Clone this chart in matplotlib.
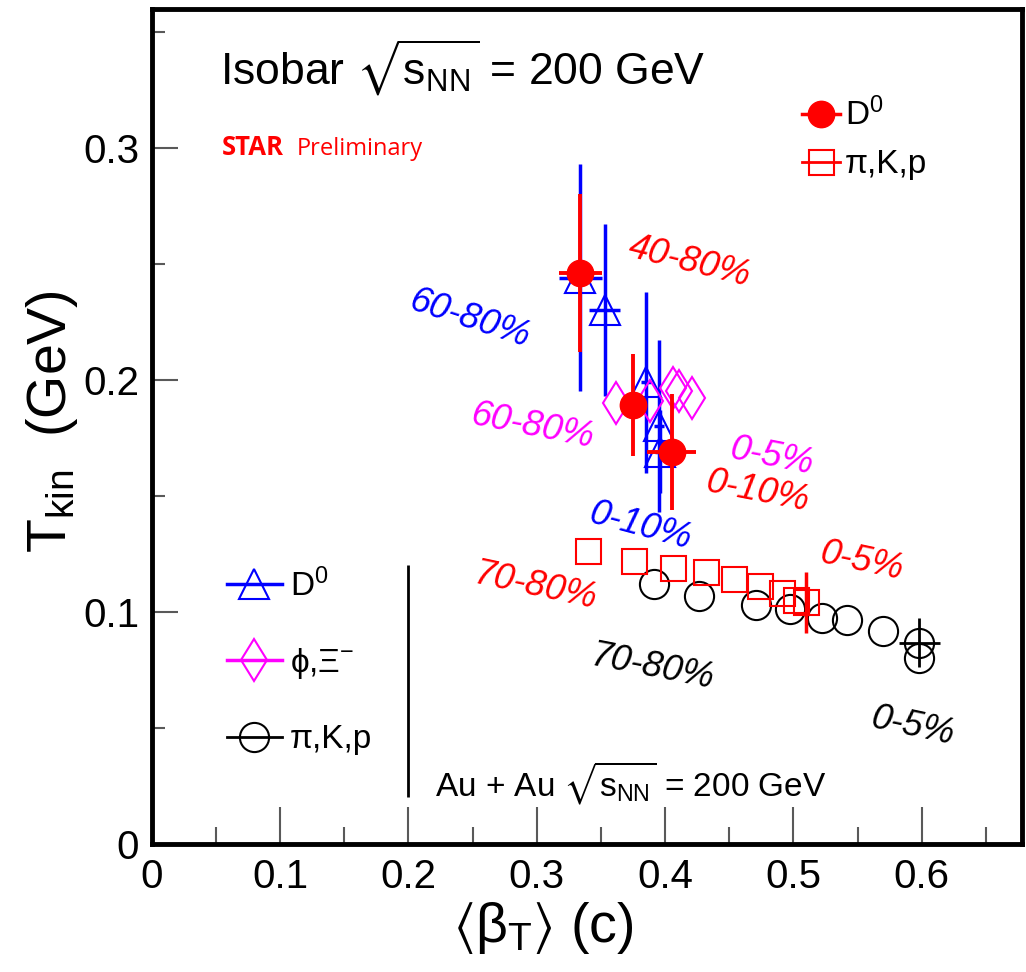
import numpy as np
import matplotlib
matplotlib.use("Agg")
import matplotlib.pyplot as plt
from matplotlib.lines import Line2D
from matplotlib.ticker import MultipleLocator, FuncFormatter

plt.rcParams['font.family'] = ['Liberation Sans', 'DejaVu Sans']
plt.rcParams['mathtext.fontset'] = 'custom'
plt.rcParams['mathtext.rm'] = 'Liberation Sans'
plt.rcParams['mathtext.it'] = 'Liberation Sans:italic'
plt.rcParams['mathtext.bf'] = 'Liberation Sans:bold'
plt.rcParams['mathtext.fallback'] = 'stixsans'

# isobar D0 (filled red circles)
d0_iso_x = [0.334, 0.375, 0.405]
d0_iso_y = [0.246, 0.189, 0.169]
d0_iso_yerr = [0.034, 0.022, 0.025]
d0_iso_xerr = [0.017, 0.004, 0.019]

# isobar pi,K,p (open red squares)
pkp_iso_x = [0.340, 0.376, 0.406, 0.432, 0.454, 0.474, 0.491, 0.502, 0.510]
pkp_iso_y = [0.126, 0.122, 0.119, 0.117, 0.114, 0.111, 0.108, 0.105, 0.104]
pkp_iso_yerr = [0, 0, 0, 0, 0, 0, 0, 0, 0.013]

# Au+Au D0 (open blue triangles)
d0_au_x = [0.334, 0.353, 0.385, 0.395, 0.396]
d0_au_y = [0.244, 0.230, 0.199, 0.180, 0.169]
d0_au_yerr = [0.049, 0.037, 0.039, 0.037, 0.018]
d0_au_xerr = [0.017, 0.012, 0.004, 0.004, 0.004]

# Au+Au phi, Xi (open magenta diamonds)
phi_au_x = [0.362, 0.388, 0.406, 0.411, 0.421]
phi_au_y = [0.190, 0.191, 0.1966, 0.195, 0.192]

# Au+Au pi,K,p (open black circles)
pkp_au_x = [0.391, 0.426, 0.471, 0.497, 0.522, 0.542, 0.570, 0.598, 0.598]
pkp_au_y = [0.112, 0.107, 0.103, 0.101, 0.0974, 0.0966, 0.0918, 0.0866, 0.080]
pkp_au_xerr = [0, 0, 0, 0, 0, 0, 0, 0.016, 0]
pkp_au_yerr = [0, 0, 0, 0, 0, 0, 0, 0.0105, 0]

# centrality labels: text, x, y, colour, angle
cent_text = ["40-80%", "60-80%", "60-80%", "0-5%", "0-10%",
             "0-10%", "70-80%", "0-5%", "70-80%", "0-5%"]
cent_x = [0.419, 0.248, 0.297, 0.483, 0.472, 0.381, 0.299, 0.553, 0.390, 0.593]
cent_y = [0.251, 0.226, 0.180, 0.167, 0.152, 0.137, 0.111, 0.1216, 0.0759, 0.0504]
cent_col = ["#ff0000", "#0000ff", "#ff00ff", "#ff00ff", "#ff0000",
            "#0000ff", "#ff0000", "#ff0000", "black", "black"]
cent_rot = [-14, -18, -11, -11, -11, -15, -12, -12, -11, -12]

red = "#ff0000"
blue = "#0000ff"
mag = "#ff00ff"

fig = plt.figure(figsize=(10.26, 9.72), dpi=100)
ax = fig.add_axes([0.148, 0.132, 0.848, 0.859])

# Au+Au first, isobar on top
ax.errorbar(pkp_au_x, pkp_au_y, xerr=pkp_au_xerr, yerr=pkp_au_yerr, fmt='o',
            ms=21, mfc='none', mec='black', mew=1.5, ecolor='black',
            elinewidth=2, capsize=0, zorder=2)
ax.errorbar(pkp_iso_x, pkp_iso_y, yerr=pkp_iso_yerr, fmt='s',
            ms=18, mfc='none', mec=red, mew=1.5, ecolor=red,
            elinewidth=2.5, capsize=0, zorder=3)
ax.errorbar(d0_au_x, d0_au_y, xerr=d0_au_xerr, yerr=d0_au_yerr, fmt='^',
            ms=21, mfc='none', mec=blue, mew=1.5, ecolor=blue,
            elinewidth=2.5, capsize=0, zorder=4)
ax.plot(phi_au_x, phi_au_y, ls='none', marker='d', ms=21.5, mfc='none',
        mec=mag, mew=1.5, zorder=5)
ax.errorbar(d0_iso_x, d0_iso_y, xerr=d0_iso_xerr, yerr=d0_iso_yerr, fmt='o',
            ms=19, color=red, ecolor=red, elinewidth=2.8, capsize=0, zorder=6)

for t, x, y, c, r in zip(cent_text, cent_x, cent_y, cent_col, cent_rot):
    ax.text(x, y, t, color=c, rotation=r, fontsize=26, style='italic',
            ha='center', va='center', rotation_mode='anchor')

# separator line for the Au+Au legend
ax.vlines(0.2, 0.02, 0.12, color='black', lw=2)

ax.set_xlim(0, 0.678)
ax.set_ylim(0, 0.36)
ax.xaxis.set_major_locator(MultipleLocator(0.1))
ax.xaxis.set_minor_locator(MultipleLocator(0.05))
ax.yaxis.set_major_locator(MultipleLocator(0.1))
ax.yaxis.set_minor_locator(MultipleLocator(0.05))
fmt = FuncFormatter(lambda v, p: '%g' % round(v, 3))
ax.xaxis.set_major_formatter(fmt)
ax.yaxis.set_major_formatter(fmt)
ax.tick_params(which='both', direction='in', top=False, right=False,
               color='0.35', width=1.5, labelsize=29)
ax.tick_params(axis='x', which='major', length=27, pad=10)
ax.tick_params(axis='x', which='minor', length=12)
ax.tick_params(axis='y', which='major', length=19, pad=9)
ax.tick_params(axis='y', which='minor', length=9)
for s in ax.spines.values():
    s.set_linewidth(3.5)

ax.set_xlabel(r'$\langle$β$_{\mathrm{T}}$$\rangle$ (c)', fontsize=40)
ax.set_ylabel(r'T$_{\mathrm{kin}}$  (GeV)', fontsize=40)
ax.xaxis.set_label_coords(0.45, -0.067)
ax.yaxis.set_label_coords(-0.083, 0.505)

ax.text(0.078, 0.909, r'Isobar $\sqrt{\mathrm{s}_{\mathrm{NN}}}$ = 200 GeV',
        transform=ax.transAxes, fontsize=32, va='baseline')
ax.text(0.0805, 0.825, 'STAR', transform=ax.transAxes, fontsize=18.5,
        color=red, fontweight='bold', family='Open Sans', va='baseline')
ax.text(0.1667, 0.825, 'Preliminary', transform=ax.transAxes, fontsize=17,
        color=red, family='Open Sans', va='baseline')
ax.text(0.325, 0.056, r'Au + Au $\sqrt{\mathrm{s}_{\mathrm{NN}}}$ = 200 GeV',
        transform=ax.transAxes, fontsize=24, va='baseline')

h_iso = [Line2D([], [], color=red, marker='o', ms=19, lw=2.5),
         Line2D([], [], color=red, marker='s', ms=18, mfc='none', mew=1.5, lw=2)]
leg1 = ax.legend(h_iso, ['D$^0$', 'π,K,p'], loc='upper left',
                 bbox_to_anchor=(0.747, 0.893), frameon=False, fontsize=24,
                 handlelength=1.15, handletextpad=0.15, labelspacing=0.5,
                 borderpad=0, borderaxespad=0)
ax.add_artist(leg1)
h_au = [Line2D([], [], color=blue, marker='^', ms=21, mfc='none', mew=1.5, lw=2.5),
        Line2D([], [], color=mag, marker='d', ms=21.5, mfc='none', mew=1.5, lw=2.5),
        Line2D([], [], color='black', marker='o', ms=21, mfc='none', mew=1.5, lw=2)]
ax.legend(h_au, ['D$^0$', 'ϕ,Ξ$^{-}$', 'π,K,p'], loc='upper left',
          bbox_to_anchor=(0.086, 0.33), frameon=False, fontsize=24,
          handlelength=1.65, handletextpad=0.25, labelspacing=1.3,
          borderpad=0, borderaxespad=0)

fig.savefig('out.png', dpi=100)
